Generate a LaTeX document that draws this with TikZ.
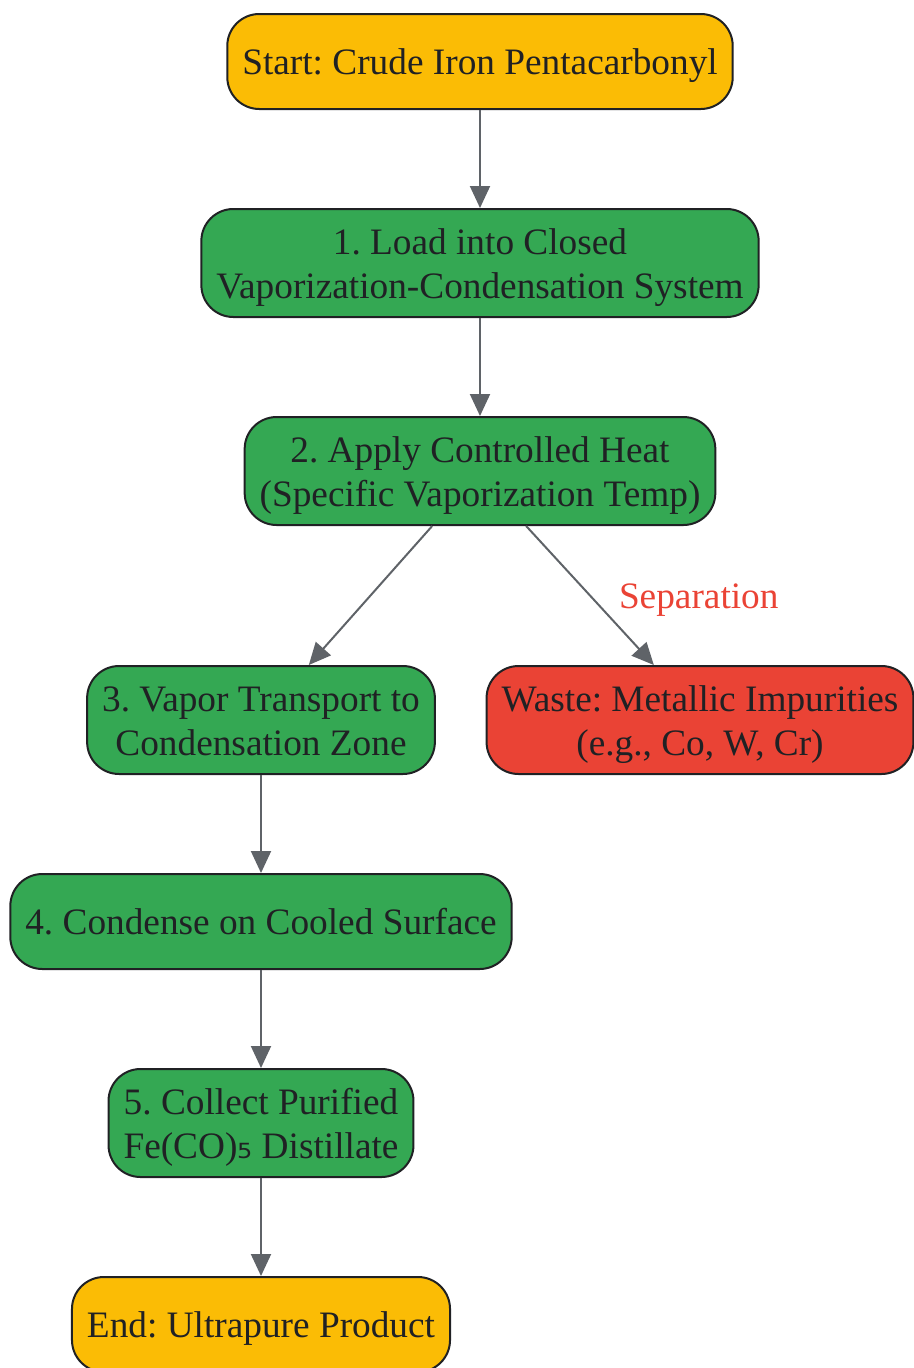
\documentclass[tikz,border=0pt]{standalone}
\usepackage{fontspec}
\setmainfont{Liberation Serif}
\newfontfamily\subfont{DejaVu Sans}
\usetikzlibrary{arrows.meta,positioning}

\definecolor{startyellow}{HTML}{FBBC05}
\definecolor{stepgreen}{HTML}{34A853}
\definecolor{wastered}{HTML}{EA4335}
\definecolor{inkdark}{HTML}{202124}
\definecolor{linegray}{HTML}{5F6368}

\begin{document}
\frenchspacing
\begin{tikzpicture}[
    x=1pt, y=1pt,
    node distance=98pt,
    box/.style={rectangle, rounded corners=32pt, draw=inkdark, line width=2pt,
        text=inkdark, align=center, inner xsep=15pt, inner ysep=10pt,
        font=\fontsize{37.3}{44}\selectfont},
    oneline/.style={text height=50pt, text depth=25pt},
    twoline/.style={text height=79pt, text depth=9pt},
    terminal/.style={box, oneline, fill=startyellow},
    stepbox/.style={box, twoline, fill=stepgreen},
    wastebox/.style={box, twoline, fill=wastered},
    arrow/.style={-{Triangle[length=22pt,width=20pt]}, draw=linegray, line width=2pt}
]
\useasboundingbox (0,0) rectangle (913,-1368);

% Main column
\node[terminal] (start) at (480,-61.5) {Start: Crude Iron Pentacarbonyl};
\node[stepbox, below=98pt of start] (load) {1. Load into Closed\\Vaporization-Condensation System};
\node[stepbox, below=98pt of load] (heat) {2. Apply Controlled Heat\\(Specific Vaporization Temp)};

% Split after heating
\node[stepbox] (vapor) at (261,-720) {3. Vapor Transport to\\Condensation Zone};
\node[wastebox] (waste) at (700,-720) {Waste: Metallic Impurities\\(e.g., Co, W, Cr)};

\node[stepbox, oneline, below=98pt of vapor] (condense) {4. Condense on Cooled Surface};
\node[stepbox, below=98pt of condense] (collect) {5. Collect Purified\\Fe(CO){\subfont ₅} Distillate};
\node[terminal, below=98pt of collect] (finish) {End: Ultrapure Product};

% Arrows
\draw[arrow] (start) -- (load);
\draw[arrow] (load) -- (heat);
\draw[arrow] (heat.229) -- (vapor.49);
\draw[arrow] (heat.310) -- (waste.130)
    node[midway, right=28pt, yshift=-5pt, inner sep=0pt, text=wastered, font=\fontsize{37.3}{44}\selectfont] (seplabel) {Separation};
\draw[arrow] (vapor) -- (condense);
\draw[arrow] (condense) -- (collect);
\draw[arrow] (collect) -- (finish);

\end{tikzpicture}
\end{document}
